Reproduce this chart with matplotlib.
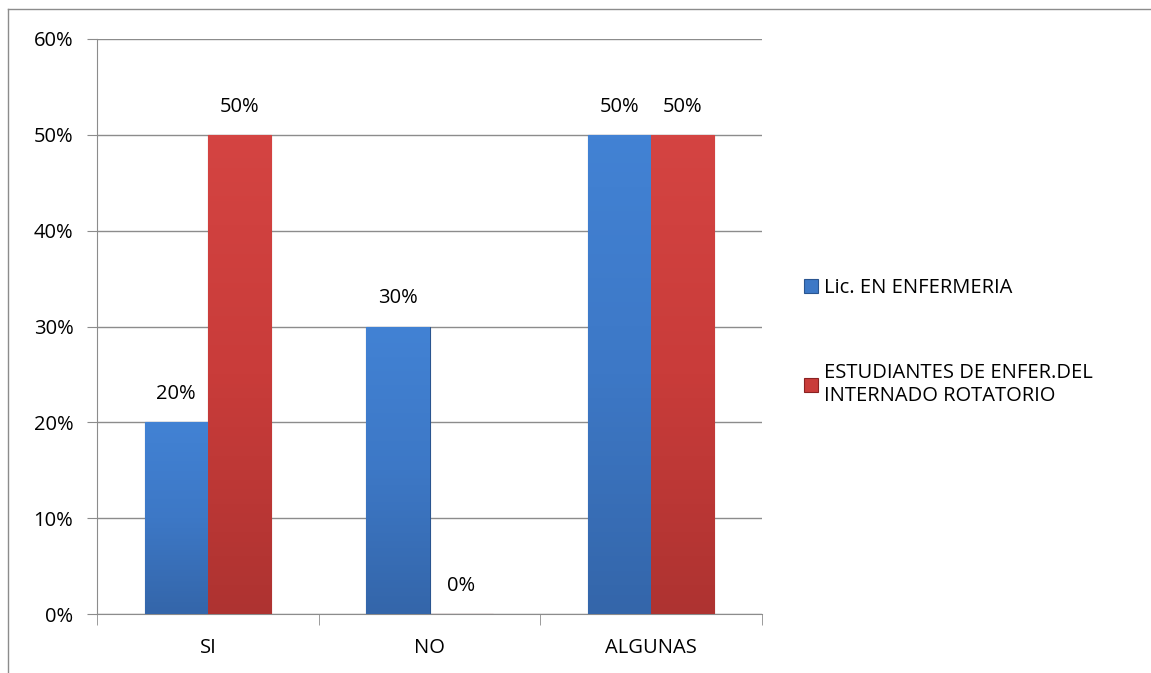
import numpy as np
import matplotlib.pyplot as plt
from matplotlib.lines import Line2D
from matplotlib.colors import LinearSegmentedColormap

# data
categories = ["SI", "NO", "ALGUNAS"]
lic = [20, 30, 50]
estudiantes = [50, 0, 50]
series_names = ["Lic. EN ENFERMERIA", "ESTUDIANTES DE ENFER.DEL\nINTERNADO ROTATORIO"]

plt.rcParams['font.family'] = ['Open Sans', 'DejaVu Sans']
FS = 14.5

fig = plt.figure(figsize=(11.51, 6.73), dpi=100)
ax = fig.add_axes([97/1151, 59/673, 665/1151, 575/673])

x = np.arange(len(categories))
w = 0.285
blue = "#3d78c6"
red = "#c93c3a"
b1 = ax.bar(x - w/2, lic, w, color=blue, edgecolor="#2a5590", linewidth=0.8, zorder=3, label=series_names[0])
b2 = ax.bar(x + w/2, estudiantes, w, color=red, edgecolor="#8a2222", linewidth=0.8, zorder=3, label=series_names[1])

# soft vertical shading on each bar
grad = np.linspace(0, 1, 100).reshape(-1, 1)
cmaps = {
    id(b1): LinearSegmentedColormap.from_list("b", ["#4282d4", "#3d78c6", "#3466aa"]),
    id(b2): LinearSegmentedColormap.from_list("r", ["#d44442", "#c93c3a", "#ae3331"]),
}
for bars in (b1, b2):
    for r in bars:
        h = r.get_height()
        if h <= 0:
            continue
        im = ax.imshow(grad, cmap=cmaps[id(bars)], aspect="auto", zorder=3.5,
                       extent=[r.get_x(), r.get_x() + r.get_width(), 0, h], origin="upper")
        im.set_clip_path(r)

for bars in (b1, b2):
    for r in bars:
        h = r.get_height()
        ax.annotate(f"{h:.0f}%", (r.get_x() + r.get_width()/2, h), xytext=(0, 13),
                    textcoords="offset points", ha="center", va="bottom", fontsize=FS)

ax.set_xlim(-0.5, 2.5)
ax.set_ylim(0, 60)
ax.set_yticks(range(0, 61, 10))
ax.set_yticklabels([f"{v}%" for v in range(0, 61, 10)], fontsize=FS)
ax.set_xticks(x)
ax.set_xticklabels(categories, fontsize=FS)
ax.tick_params(axis='x', length=0, pad=17)
ax.tick_params(axis='y', length=7, color="#8c8c8c", pad=10)
# category boundary ticks
ax.set_xticks([-0.5, 0.5, 1.5, 2.5], minor=True)
ax.tick_params(axis='x', which='minor', length=8, color="#8c8c8c")

ax.grid(axis='y', color="#8c8c8c", linewidth=1, zorder=0)
for s in ("top", "right"):
    ax.spines[s].set_visible(False)
for s in ("left", "bottom"):
    ax.spines[s].set_color("#8c8c8c")

ax.legend(loc="center left", bbox_to_anchor=(1.036, 0.473), frameon=False, fontsize=FS,
          handlelength=0.7, handleheight=0.7, handletextpad=0.3, labelspacing=3.2)

# outer chart border
fig.add_artist(Line2D([8/1151, 8/1151], [0, 1 - 9/673], transform=fig.transFigure, color="#8c8c8c", lw=1))
fig.add_artist(Line2D([8/1151, 1], [1 - 9/673, 1 - 9/673], transform=fig.transFigure, color="#8c8c8c", lw=1))

fig.savefig("out.png", dpi=100)
